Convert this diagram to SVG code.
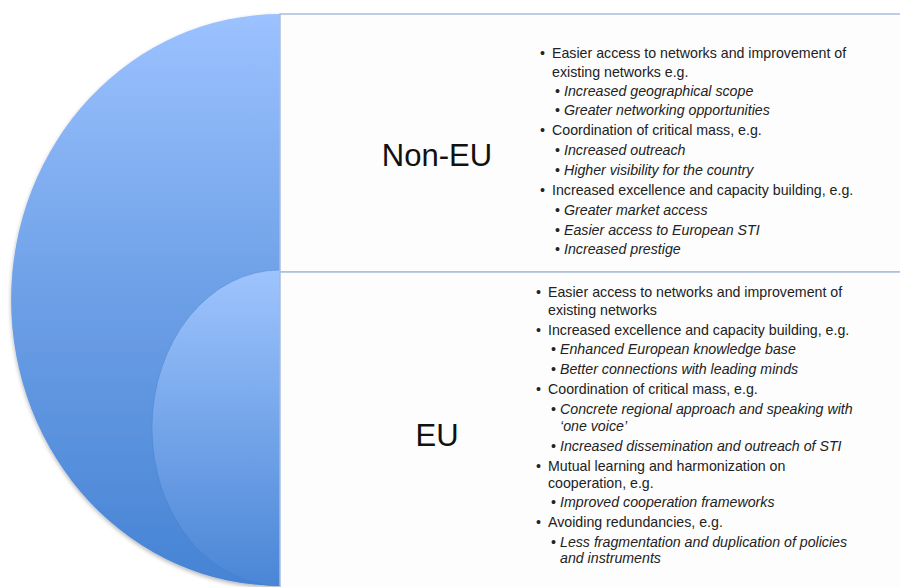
<svg xmlns="http://www.w3.org/2000/svg" width="900" height="587" viewBox="0 0 900 587">
<defs>
<linearGradient id="gBig" x1="0" y1="0" x2="0" y2="1">
<stop offset="0" stop-color="#9cc2ff"/>
<stop offset="0.5" stop-color="#6c9fe6"/>
<stop offset="1" stop-color="#4683d4"/>
</linearGradient>
<linearGradient id="gSmall" x1="0" y1="0" x2="0" y2="1">
<stop offset="0" stop-color="#9ec4fd"/>
<stop offset="1" stop-color="#4a86d6"/>
</linearGradient>
<filter id="sh" x="-10%" y="-10%" width="120%" height="120%">
<feGaussianBlur in="SourceAlpha" stdDeviation="2"/>
<feOffset dx="0" dy="2"/>
<feComponentTransfer><feFuncA type="linear" slope="0.3"/></feComponentTransfer>
<feMerge><feMergeNode/><feMergeNode in="SourceGraphic"/></feMerge>
</filter>
</defs>
<style>
.box{fill:#fdfdfd;stroke:#a9bdd8;stroke-width:1.5}
.title{font-family:"Liberation Sans",Arial,sans-serif;font-size:31px;fill:#111;text-anchor:middle}
.t{font-family:"Liberation Sans",Arial,sans-serif;font-size:14.2px;fill:#222}
.i{font-style:italic}
</style>
<rect width="900" height="587" fill="#ffffff"/>
<g id="shapes">
<path d="M280,14 A269,286 0 0 0 280,586 Z" fill="url(#gBig)" filter="url(#sh)"/>
<path d="M280,270 A128,158 0 0 0 280,586 Z" fill="url(#gSmall)" stroke="#3f77c2" stroke-opacity="0.35" stroke-width="1"/>
</g>
<g id="non-eu">
<rect class="box" x="280" y="14" width="622" height="258"/>
<text class="title" x="437" y="166">Non-EU</text>
<g class="t">
<text x="540" y="58">•</text><text x="552" y="58">Easier access to networks and improvement of</text>
<text x="552" y="77">existing networks e.g.</text>
<text x="555" y="96">•</text><text class="i" x="564" y="96">Increased geographical scope</text>
<text x="555" y="115">•</text><text class="i" x="564" y="115">Greater networking opportunities</text>
<text x="540" y="135">•</text><text x="552" y="135">Coordination of critical mass, e.g.</text>
<text x="555" y="155">•</text><text class="i" x="564" y="155">Increased outreach</text>
<text x="555" y="175">•</text><text class="i" x="564" y="175">Higher visibility for the country</text>
<text x="540" y="195">•</text><text x="552" y="195">Increased excellence and capacity building, e.g.</text>
<text x="555" y="215">•</text><text class="i" x="564" y="215">Greater market access</text>
<text x="555" y="235">•</text><text class="i" x="564" y="235">Easier access to European STI</text>
<text x="555" y="254">•</text><text class="i" x="564" y="254">Increased prestige</text>
</g>
</g>
<g id="eu">
<rect class="box" x="280" y="272" width="622" height="318"/>
<text class="title" x="437" y="446">EU</text>
<g class="t">
<text x="536" y="297">•</text><text x="548" y="297">Easier access to networks and improvement of</text>
<text x="548" y="315">existing networks</text>
<text x="536" y="335">•</text><text x="548" y="335">Increased excellence and capacity building, e.g.</text>
<text x="551" y="354">•</text><text class="i" x="560" y="354">Enhanced European knowledge base</text>
<text x="551" y="374">•</text><text class="i" x="560" y="374">Better connections with leading minds</text>
<text x="536" y="394">•</text><text x="548" y="394">Coordination of critical mass, e.g.</text>
<text x="551" y="414">•</text><text class="i" x="560" y="414">Concrete regional approach and speaking with</text>
<text class="i" x="560" y="431">‘one voice’</text>
<text x="551" y="451">•</text><text class="i" x="560" y="451">Increased dissemination and outreach of STI</text>
<text x="536" y="471">•</text><text x="548" y="471">Mutual learning and harmonization on</text>
<text x="548" y="488">cooperation, e.g.</text>
<text x="551" y="507">•</text><text class="i" x="560" y="507">Improved cooperation frameworks</text>
<text x="536" y="527">•</text><text x="548" y="527">Avoiding redundancies, e.g.</text>
<text x="551" y="547">•</text><text class="i" x="560" y="547">Less fragmentation and duplication of policies</text>
<text class="i" x="560" y="563">and instruments</text>
</g>
</g>
</svg>
